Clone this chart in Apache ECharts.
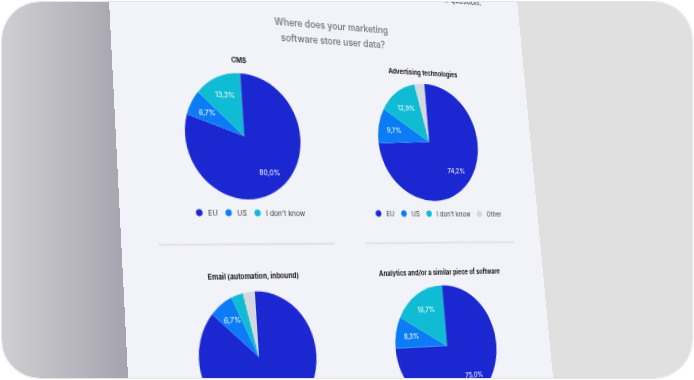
<!DOCTYPE html>
<html>
<head>
<meta charset="utf-8">
<script src="https://cdn.jsdelivr.net/npm/echarts@6/dist/echarts.min.js"></script>
<style>
html,body{margin:0;padding:0;width:694px;height:380px;background:#fff;overflow:hidden}
#frame{position:absolute;left:0;top:0;width:694px;height:380px;clip-path:inset(2px round 38px);
  background:linear-gradient(to right,#d0d0d3 0px,#a4a3ae 130px,#e0e0e0 130px,#e0e0e0 100%)}
#page{position:absolute;left:0;top:0;transform-origin:0 0}
#rim{position:absolute;left:1px;top:1px;width:690px;height:376px;border:1px solid #e6e6e8;border-radius:39px;pointer-events:none}
</style>
</head>
<body>
<div id="frame"><div id="page"></div></div>
<div id="rim"></div>
<script>
// ---------------- data ----------------
const categories = ['EU', 'US', "I don't know", 'Other'];
const cmsValues = [80.0, 6.7, 13.3];
const advValues = [74.2, 9.7, 12.9, 3.2];
const emailValues = [86.7, 6.7, 3.3, 3.3];
const analyticsValues = [75.0, 8.3, 16.7];
const chartTitles = ['CMS', 'Advertising technologies', 'Email (automation, inbound)', 'Analytics and/or a similar piece of software'];
const mainTitleLines = ['Where does your marketing', 'software store user data?'];
const noteText = 'to this question.';

// ---------------- styles ----------------
const COLORS = ['#1b28d2', '#0b7cf6', '#0fbcd3', '#d5d8df'];
const FONT = 'Inter';

// ---------------- perspective of the photographed page ----------------
const W = 420, PAD = 60;
const QUAD = [[109, 0], [520.3, 34.2], [550.9, 355.3], [128.2, 380]];

function solve(A, b) {
  const n = b.length;
  const M = A.map((r, i) => r.concat([b[i]]));
  for (let c = 0; c < n; c++) {
    let p = c;
    for (let r = c + 1; r < n; r++) if (Math.abs(M[r][c]) > Math.abs(M[p][c])) p = r;
    const t = M[c]; M[c] = M[p]; M[p] = t;
    for (let r = 0; r < n; r++) {
      if (r === c) continue;
      const f = M[r][c] / M[c][c];
      for (let k = c; k <= n; k++) M[r][k] -= f * M[c][k];
    }
  }
  return M.map((r, i) => r[n] / r[i]);
}
function homography(src, dst) {
  const A = [], b = [];
  for (let i = 0; i < 4; i++) {
    const [x, y] = src[i], [u, v] = dst[i];
    A.push([x, y, 1, 0, 0, 0, -x * u, -y * u]); b.push(u);
    A.push([0, 0, 0, x, y, 1, -x * v, -y * v]); b.push(v);
  }
  const h = solve(A, b);
  return [h[0], h[1], h[2], h[3], h[4], h[5], h[6], h[7], 1];
}
function inv3(m) {
  const [a, b, c, d, e, f, g, h, i] = m;
  const A = e * i - f * h, B = -(d * i - f * g), C = d * h - e * g;
  const det = a * A + b * B + c * C;
  return [A / det, -(b * i - c * h) / det, (b * f - c * e) / det,
          B / det, (a * i - c * g) / det, -(a * f - c * d) / det,
          C / det, -(a * h - b * g) / det, (a * e - b * d) / det];
}
function ap(m, p) {
  const w = m[6] * p[0] + m[7] * p[1] + m[8];
  return [(m[0] * p[0] + m[1] * p[1] + m[2]) / w, (m[3] * p[0] + m[4] * p[1] + m[5]) / w];
}
const dist = (a, b) => Math.hypot(a[0] - b[0], a[1] - b[1]);

// outlines of the two fully visible pies in the photo (left, right, top, bottom)
const PIE_OUTLINES = [
  { l: [185, 135], r: [301, 142], t: [240, 73.5], b: [249, 199.5] },
  { l: [379, 140], r: [478, 147], t: [425, 85], b: [436, 202] }
];
function ratioFor(H) {
  const Mi = inv3(homography([[0, 0], [W, 0], [W, H], [0, H]], QUAD));
  let s = 0;
  PIE_OUTLINES.forEach(p => { s += dist(ap(Mi, p.l), ap(Mi, p.r)) / dist(ap(Mi, p.t), ap(Mi, p.b)); });
  return s / PIE_OUTLINES.length;
}
let lo = 150, hi = 700;
for (let k = 0; k < 60; k++) { const mid = (lo + hi) / 2; if (ratioFor(mid) > 1) lo = mid; else hi = mid; }
const H = (lo + hi) / 2;
const HM = homography([[0, 0], [W, 0], [W, H], [0, H]], QUAD);
const HI = inv3(HM);
// photo point -> chart pixel
const P = (x, y) => { const f = ap(HI, [x, y]); return [f[0], f[1] + PAD]; };

let R = 0;
PIE_OUTLINES.forEach(p => { R += (dist(ap(HI, p.l), ap(HI, p.r)) + dist(ap(HI, p.t), ap(HI, p.b))) / 4; });
R /= PIE_OUTLINES.length;

const pageEl = document.getElementById('page');
pageEl.style.width = W + 'px';
pageEl.style.height = (H + 2 * PAD) + 'px';
const h = HM;
pageEl.style.transform = `matrix3d(${h[0]},${h[3]},0,${h[6]},${h[1]},${h[4]},0,${h[7]},0,0,1,0,${h[2]},${h[5]},0,${h[8]}) translate(0px,${-PAD}px)`;

// ---------------- layout (photo coordinates) ----------------
const pieDefs = [
  { values: cmsValues, center: P(244, 136), title: P(238.7, 60) },
  { values: advValues, center: P(429, 142), title: P(423.3, 73.3) },
  { values: emailValues, center: P(259, 357), title: P(254.2, 276) },
  { values: analyticsValues, center: P(447, 346), title: P(441, 272.3) }
];
const legendDefs = [
  { names: categories.slice(0, 3), at: P(196, 213.3) },
  { names: categories.slice(0, 4), at: P(375.7, 214) }
];

const fmt = v => v >= 5 ? v.toFixed(1).replace('.', ',') + '%' : '';

function labelPos(seriesIndex, dataIndex) {
  const d = pieDefs[seriesIndex];
  const total = d.values.reduce((a, b) => a + b, 0);
  let cum = 0;
  for (let i = 0; i < dataIndex; i++) cum += d.values[i];
  const mid = (cum + d.values[dataIndex] / 2) / total * Math.PI * 2;
  return [d.center[0] + 0.7 * R * Math.sin(mid), d.center[1] - 0.7 * R * Math.cos(mid)];
}

const series = pieDefs.map((d, si) => ({
  type: 'pie',
  name: chartTitles[si],
  center: d.center,
  radius: R,
  startAngle: 90,
  clockwise: true,
  avoidLabelOverlap: false,
  silent: true,
  emphasis: { disabled: true },
  itemStyle: { borderWidth: 0 },
  label: {
    show: true, position: 'inside', color: '#ffffff', fontSize: 6.5, fontFamily: FONT,
    formatter: p => fmt(p.value)
  },
  labelLine: { show: false },
  labelLayout: params => {
    const pos = labelPos(params.seriesIndex, params.dataIndex);
    return { x: pos[0], y: pos[1], align: 'center', verticalAlign: 'middle' };
  },
  data: d.values.map((v, i) => ({ name: categories[i], value: v, itemStyle: { color: COLORS[i] } }))
}));

const legend = legendDefs.map(l => ({
  data: l.names,
  left: l.at[0],
  top: l.at[1] - 4,
  orient: 'horizontal',
  icon: 'circle',
  itemWidth: 6,
  itemHeight: 6,
  itemGap: 7,
  padding: 0,
  selectedMode: false,
  textStyle: { fontSize: 6.5, color: '#3c3c40', fontFamily: FONT }
}));

function txt(pos, text, size, weight, color, align) {
  return {
    type: 'text', x: pos[0], y: pos[1], silent: true,
    style: {
      text: text, fontSize: size, fontWeight: weight, fontFamily: FONT, fill: color,
      align: align || 'center', textAlign: align || 'center',
      verticalAlign: 'middle', textVerticalAlign: 'middle'
    }
  };
}
function line(a, b) {
  return { type: 'line', silent: true, shape: { x1: a[0], y1: a[1], x2: b[0], y2: b[1] },
    style: { stroke: '#dcdde3', lineWidth: 1.3 } };
}

const graphic = [
  txt(P(481, 2.5), noteText, 8, 500, '#46464c', 'right'),
  txt(P(332.5, 26.5), mainTitleLines[0], 8.8, 500, '#6e6e74'),
  txt(P(334, 41), mainTitleLines[1], 8.8, 500, '#6e6e74'),
  line(P(159, 245), P(335, 243.7)),
  line(P(365, 243.3), P(514, 242))
].concat(pieDefs.map((d, i) => txt(d.title, chartTitles[i], 6.2, 700, '#141416')));

const chart = echarts.init(pageEl, null, { renderer: 'svg', width: W, height: H + 2 * PAD });
chart.setOption({
  animation: false,
  backgroundColor: '#f2f3f8',
  legend: legend,
  graphic: graphic,
  series: series
});
</script>
</body>
</html>
